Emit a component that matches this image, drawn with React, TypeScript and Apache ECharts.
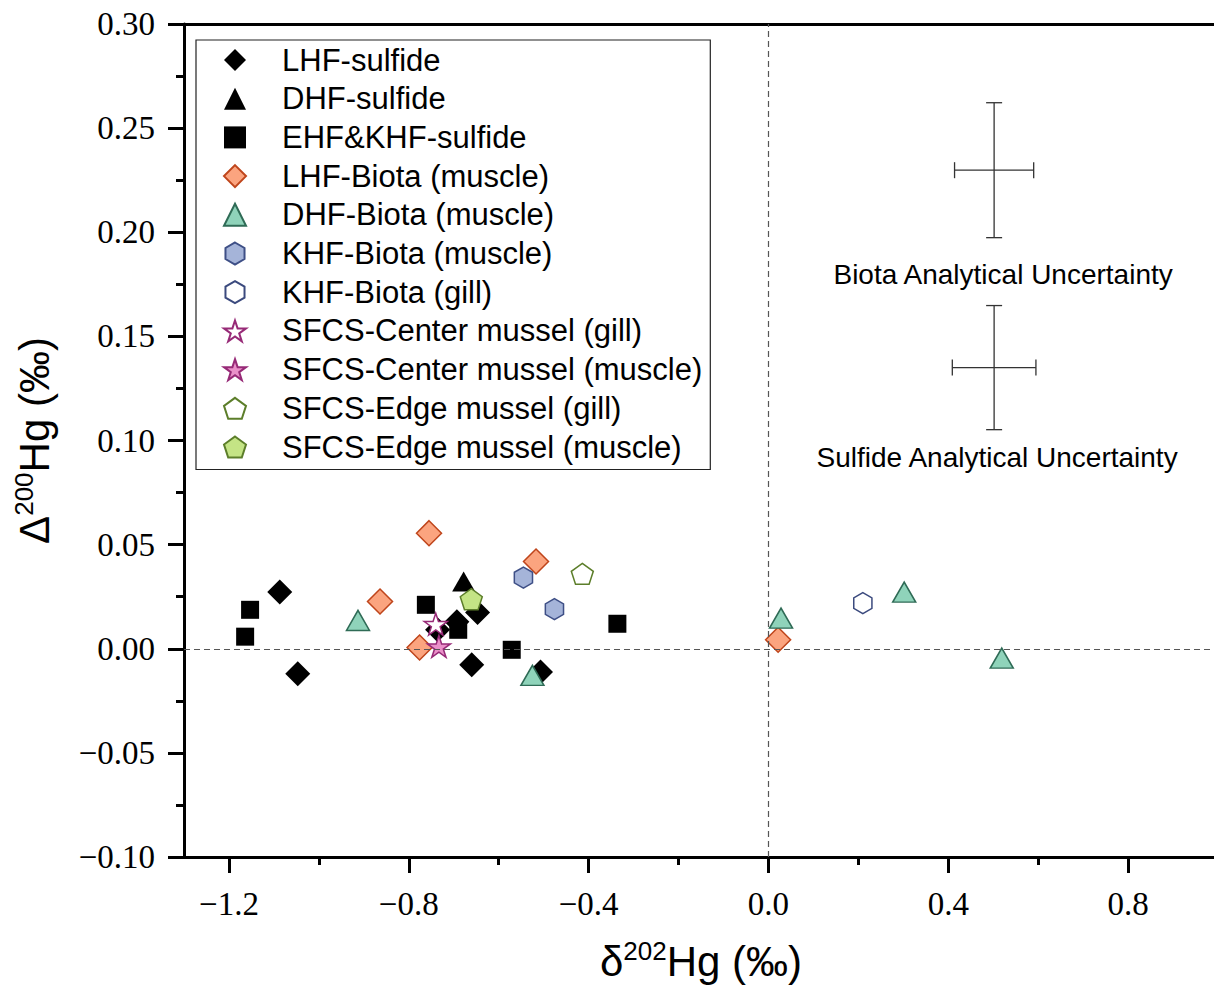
import React, { useEffect, useRef } from 'react';
import * as echarts from 'echarts';

// ---- data (δ202Hg, Δ200Hg) ----
const seriesNames = [
  'LHF-sulfide',
  'DHF-sulfide',
  'EHF&KHF-sulfide',
  'LHF-Biota (muscle)',
  'DHF-Biota (muscle)',
  'KHF-Biota (muscle)',
  'KHF-Biota (gill)',
  'SFCS-Center mussel (gill)',
  'SFCS-Center mussel (muscle)',
  'SFCS-Edge mussel (gill)',
  'SFCS-Edge mussel (muscle)',
];

const lhfSulfide = [[-1.087, 0.0272], [-1.047, -0.012], [-0.736, 0.0091], [-0.693, 0.013], [-0.647, 0.0174], [-0.66, -0.0077], [-0.507, -0.0112]];
const dhfSulfide = [[-0.678, 0.0323]];
const ehfKhfSulfide = [[-1.153, 0.0187], [-1.164, 0.0058], [-0.762, 0.0211], [-0.69, 0.0091], [-0.571, -0.0005], [-0.336, 0.012]];
const lhfBiotaMuscle = [[-0.755, 0.0555], [-0.864, 0.0227], [-0.776, 0.0006], [-0.517, 0.0419], [0.0215, 0.0043]];
const dhfBiotaMuscle = [[-0.913, 0.0136], [-0.525, -0.0128], [0.028, 0.0147], [0.302, 0.0272], [0.519, -0.0045]];
const khfBiotaMuscle = [[-0.545, 0.0342], [-0.476, 0.019]];
const khfBiotaGill = [[0.21, 0.0219]];
const centerMusselGill = [[-0.74, 0.0118]];
const centerMusselMuscle = [[-0.733, 0.0011]];
const edgeMusselGill = [[-0.414, 0.036]];
const edgeMusselMuscle = [[-0.661, 0.0238]];

// analytical uncertainty crosses: [x, y, xErr, yErr]
const uncertaintyLabels = ['Biota Analytical Uncertainty', 'Sulfide Analytical Uncertainty'];
const uncertaintyData = [[0.502, 0.2298, 0.088, 0.0324], [0.502, 0.135, 0.093, 0.0298]];

// ticks
const xMajorTicks = [-1.2, -0.8, -0.4, 0, 0.4, 0.8];
const xMinorTicks = [-1.0, -0.6, -0.2, 0.2, 0.6, 1.0];
const xMin = -1.3;
const xMax = 1.0;
const yMin = -0.1;
const yMax = 0.3;
const yInterval = 0.05;

// ---- symbols ----
const HEX = 'path://M50 0 L93.3 25 L93.3 75 L50 100 L6.7 75 L6.7 25 Z';
const PENT = 'path://M50 0 L97.55 34.55 L79.39 90.45 L20.61 90.45 L2.45 34.55 Z';
const STAR = 'path://M50 0 L61.23 34.55 L97.55 34.55 L68.17 55.9 L79.39 90.45 L50 69.1 L20.61 90.45 L31.83 55.9 L2.45 34.55 L38.77 34.55 Z';

const minusFmt = (v: number, d: number) => (v < -1e-9 ? '\u2212' : '') + Math.abs(v).toFixed(d);

export default function App() {
  const ref = useRef<HTMLDivElement>(null);
  useEffect(() => {
    if (!ref.current) return;
    const chart = echarts.init(ref.current, null, { renderer: 'svg' });
    const sansFont = 'Liberation Sans';
    const serifFont = 'Liberation Serif';
    const axisColor = '#000';

    const mk = (name: string, data: number[][], symbol: string, size: any, color: string, border?: string, keep = false) => ({
      name,
      type: 'scatter',
      data,
      symbol,
      symbolSize: size,
      symbolKeepAspect: keep,
      itemStyle: {
        color,
        borderColor: border || color,
        borderWidth: border ? 1.5 : 0,
        opacity: 1,
      },
      emphasis: { disabled: true },
    });

    const series: any[] = [
      {
        ...mk(seriesNames[0], lhfSulfide, 'diamond', 25, '#000'),
        markLine: {
          silent: true,
          symbol: 'none',
          label: { show: false },
          lineStyle: { type: [6, 4], color: '#555', width: 1.2 },
          data: [{ xAxis: 0 }, { yAxis: 0 }],
        },
      },
      mk(seriesNames[1], dhfSulfide, 'triangle', [23, 20], '#000'),
      mk(seriesNames[2], ehfKhfSulfide, 'rect', 18, '#000'),
      mk(seriesNames[3], lhfBiotaMuscle, 'diamond', 25, '#FBA47F', '#BF451B'),
      mk(seriesNames[4], dhfBiotaMuscle, 'triangle', [23, 20], '#8FD3BA', '#2F6B56'),
      mk(seriesNames[5], khfBiotaMuscle, HEX, 21, '#A5B4D9', '#3E4F86', true),
      mk(seriesNames[6], khfBiotaGill, HEX, 21, '#FFFFFF', '#3B4A7E', true),
      mk(seriesNames[7], centerMusselGill, STAR, 23, '#FFFFFF', '#972A77', true),
      mk(seriesNames[8], centerMusselMuscle, STAR, 23, '#EA90C9', '#972A77', true),
      mk(seriesNames[9], edgeMusselGill, PENT, 22, '#FFFFFF', '#5C7E2A', true),
      mk(seriesNames[10], edgeMusselMuscle, PENT, 22, '#C4E485', '#5C7E2A', true),
      {
        name: 'uncertainty',
        type: 'custom',
        clip: false,
        silent: true,
        data: uncertaintyData,
        renderItem: (params: any, api: any) => {
          const x = api.value(0);
          const y = api.value(1);
          const ex = api.value(2);
          const ey = api.value(3);
          const c = api.coord([x, y]);
          const l = api.coord([x - ex, y]);
          const r = api.coord([x + ex, y]);
          const t = api.coord([x, y + ey]);
          const b = api.coord([x, y - ey]);
          const cap = 8;
          const st = { stroke: '#333', lineWidth: 1.3 };
          const textDx = [9, 3][params.dataIndex];
          const textDy = [37, 28][params.dataIndex];
          return {
            type: 'group',
            children: [
              { type: 'line', shape: { x1: l[0], y1: l[1], x2: r[0], y2: r[1] }, style: st },
              { type: 'line', shape: { x1: t[0], y1: t[1], x2: b[0], y2: b[1] }, style: st },
              { type: 'line', shape: { x1: l[0], y1: l[1] - cap, x2: l[0], y2: l[1] + cap }, style: st },
              { type: 'line', shape: { x1: r[0], y1: r[1] - cap, x2: r[0], y2: r[1] + cap }, style: st },
              { type: 'line', shape: { x1: t[0] - cap, y1: t[1], x2: t[0] + cap, y2: t[1] }, style: st },
              { type: 'line', shape: { x1: b[0] - cap, y1: b[1], x2: b[0] + cap, y2: b[1] }, style: st },
              {
                type: 'text',
                style: {
                  text: uncertaintyLabels[params.dataIndex],
                  x: c[0] + textDx,
                  y: b[1] + textDy,
                  align: 'center',
                  verticalAlign: 'middle',
                  fontSize: 28,
                  fontFamily: sansFont,
                  fill: '#000',
                },
              },
            ],
          };
        },
      },
    ];

    const titleRich = {
      d: { fontSize: 42, fontFamily: sansFont, color: '#000', lineHeight: 44, verticalAlign: 'bottom' },
      s: { fontSize: 26, fontFamily: sansFont, color: '#000', lineHeight: 26, verticalAlign: 'top' },
      h: { fontSize: 42, fontFamily: sansFont, color: '#000', lineHeight: 44, verticalAlign: 'bottom' },
    };

    const option: any = {
      animation: false,
      backgroundColor: '#fff',
      grid: { left: 184, top: 24, width: 1034, height: 833, containLabel: false, outerBoundsMode: 'none' },
      legend: {
        orient: 'vertical',
        left: 196,
        top: 40,
        padding: [4.5, 8, 7, 27],
        itemWidth: 22,
        itemHeight: 22,
        itemGap: 7.7,
        borderColor: '#222',
        borderWidth: 1.2,
        backgroundColor: '#fff',
        selectedMode: false,
        data: seriesNames,
        textStyle: {
          fontFamily: sansFont,
          fontSize: 31,
          lineHeight: 31,
          color: '#000',
          padding: [0, 0, 0, 31],
        },
      },
      xAxis: [
        {
          type: 'value',
          min: xMin,
          max: xMax,
          position: 'bottom',
          name: '{d|δ}{s|202}{h|Hg (‰)}',
          nameLocation: 'middle',
          nameGap: 81,
          nameTextStyle: { rich: titleRich },
          axisLine: { show: true, onZero: false, lineStyle: { color: axisColor, width: 3 } },
          axisTick: { show: true, inside: false, length: 16, customValues: xMajorTicks, lineStyle: { color: axisColor, width: 3 } },
          axisLabel: {
            customValues: xMajorTicks,
            formatter: (v: number) => minusFmt(v, 1),
            margin: 30,
            fontFamily: serifFont,
            fontSize: 33,
            color: '#000',
          },
          splitLine: { show: false },
        },
        {
          type: 'value',
          min: xMin,
          max: xMax,
          position: 'bottom',
          axisLine: { show: false, onZero: false },
          axisTick: { show: true, inside: false, length: 8, customValues: xMinorTicks, lineStyle: { color: axisColor, width: 3 } },
          axisLabel: { show: false },
          splitLine: { show: false },
        },
        {
          type: 'value',
          min: xMin,
          max: xMax,
          position: 'top',
          axisLine: { show: true, onZero: false, lineStyle: { color: axisColor, width: 3 } },
          axisTick: { show: false },
          axisLabel: { show: false },
          splitLine: { show: false },
        },
      ],
      yAxis: {
        type: 'value',
        min: yMin,
        max: yMax,
        interval: yInterval,
        name: '{d|Δ}{s|200}{h|Hg (‰)}',
        nameLocation: 'middle',
        nameGap: 129,
        nameRotate: 90,
        nameTextStyle: { rich: titleRich },
        axisLine: { show: true, onZero: false, lineStyle: { color: axisColor, width: 3 } },
        axisTick: { show: true, inside: false, length: 16, lineStyle: { color: axisColor, width: 3 } },
        minorTick: { show: true, splitNumber: 2, length: 8, lineStyle: { color: axisColor, width: 3 } },
        axisLabel: {
          formatter: (v: number) => minusFmt(v, 2),
          margin: 29,
          fontFamily: serifFont,
          fontSize: 33,
          color: '#000',
        },
        splitLine: { show: false },
        minorSplitLine: { show: false },
      },
      series,
    };

    chart.setOption(option);
    return () => chart.dispose();
  }, []);

  return (
    <div
      ref={ref}
      style={{ position: 'absolute', left: 0, top: 0, width: 1214, height: 987, background: '#fff' }}
    />
  );
}
